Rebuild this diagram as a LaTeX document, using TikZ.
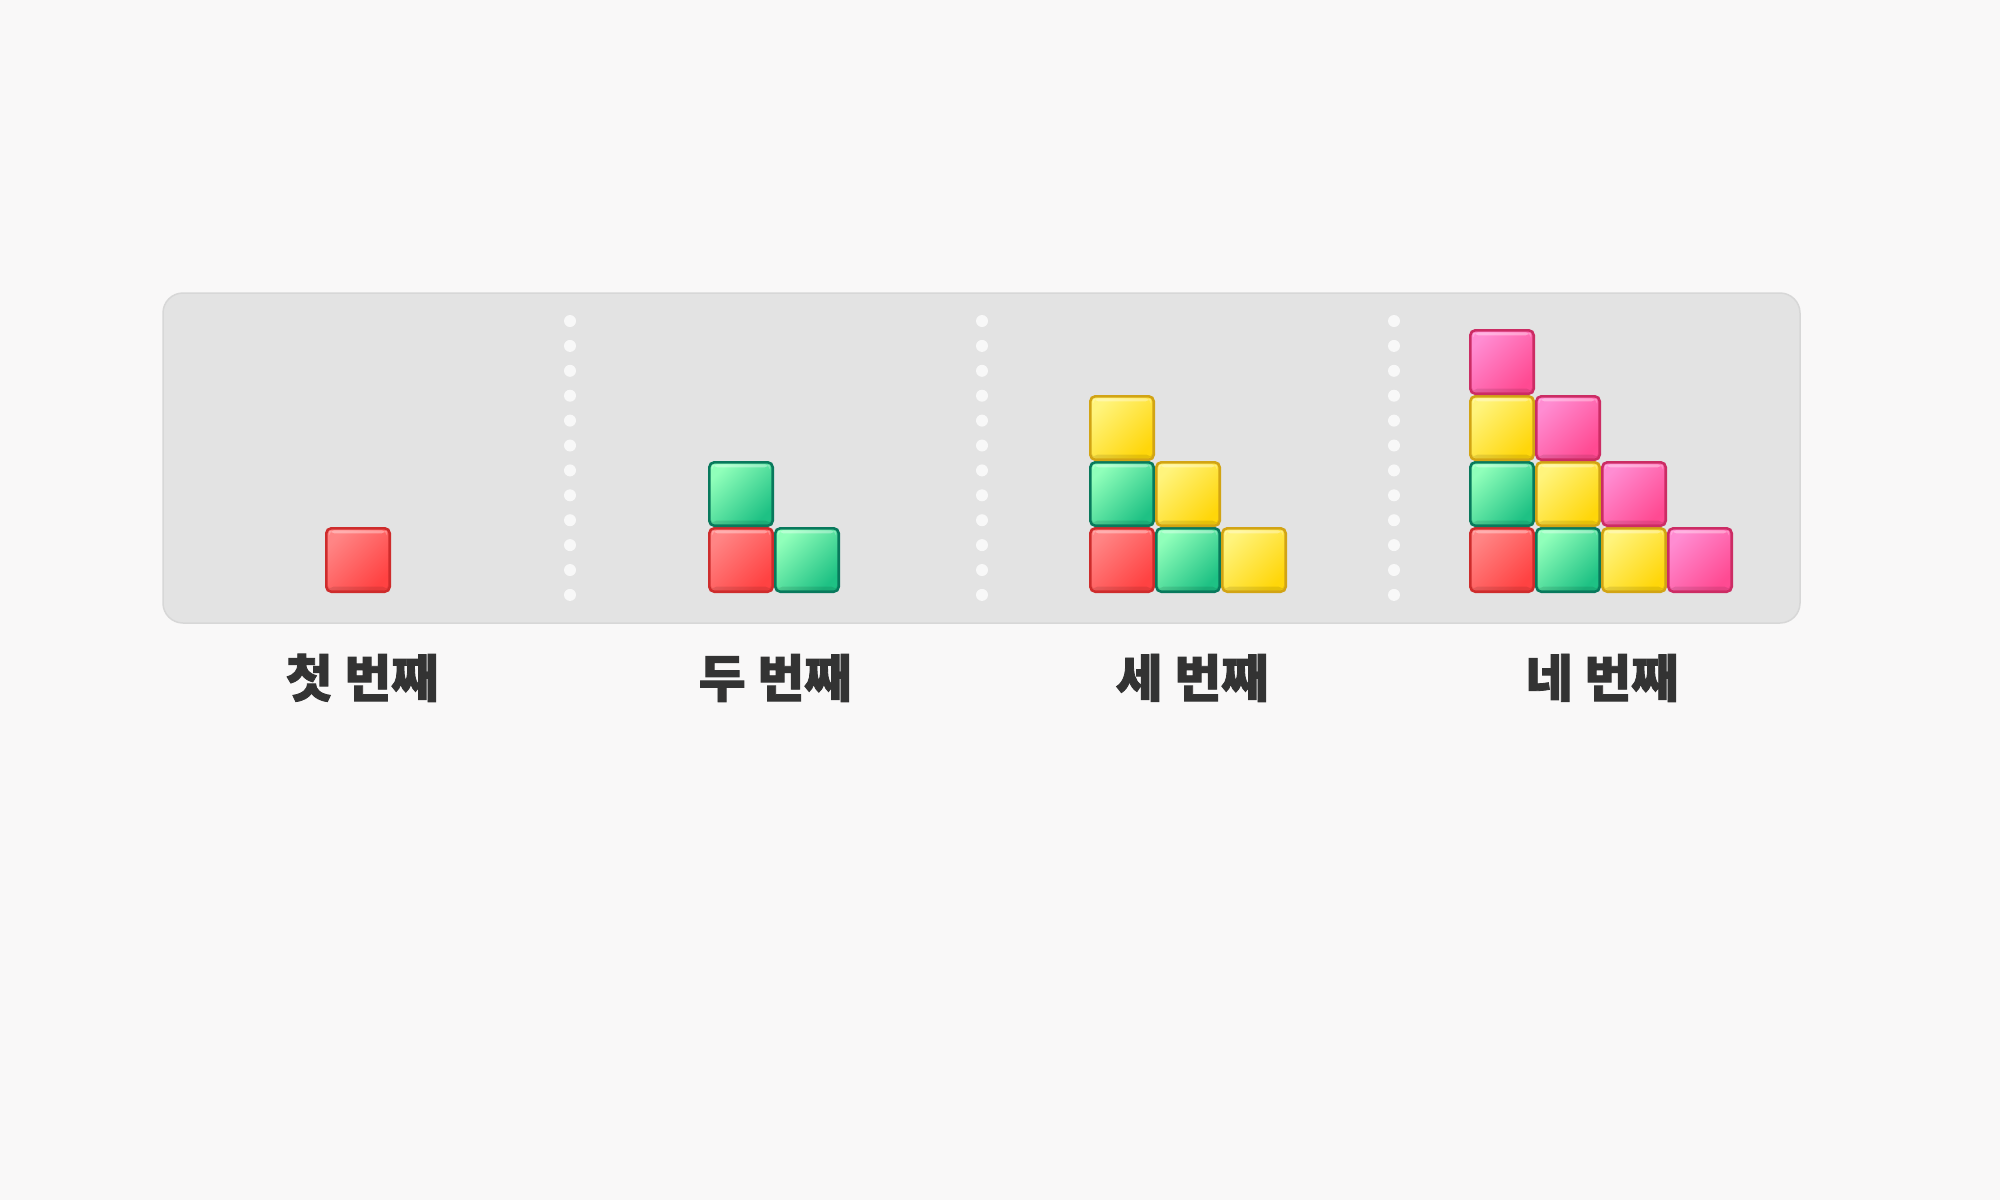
\documentclass[tikz,border=0pt]{standalone}
\usepackage{fontspec}
\newfontfamily\krfont{Noto Sans CJK KR}[BoldFeatures={FakeBold=1.6}]
\definecolor{bgc}{HTML}{F9F8F8}
\definecolor{panelc}{HTML}{E3E3E3}
\definecolor{paneld}{HTML}{D7D7D7}
\definecolor{dotc}{HTML}{F8F8F8}
\definecolor{txtc}{HTML}{333333}
\definecolor{rB}{HTML}{CE2C2C}\definecolor{rL}{HTML}{FF8585}\definecolor{rD}{HTML}{FF4242}
\definecolor{gB}{HTML}{08795C}\definecolor{gL}{HTML}{90FFBA}\definecolor{gD}{HTML}{1EC184}
\definecolor{yB}{HTML}{D2A414}\definecolor{yL}{HTML}{FFF47C}\definecolor{yD}{HTML}{FFD60A}
\definecolor{pB}{HTML}{CC2C64}\definecolor{pL}{HTML}{FF8CD2}\definecolor{pD}{HTML}{FF4A92}
\tikzset{
  blk/.style={draw, line width=2.6pt, rounded corners=5pt, minimum size=63.4pt,
    inner sep=0pt, outer sep=0pt,
    path picture={
      \fill[white, opacity=.35]
        ([xshift=3pt,yshift=-2pt]path picture bounding box.north west) rectangle
        ([xshift=-3pt,yshift=-5pt]path picture bounding box.north east);
      \fill[black, opacity=.10]
        ([xshift=2pt,yshift=5pt]path picture bounding box.south west) rectangle
        ([xshift=-2pt,yshift=1pt]path picture bounding box.south east);
    }},
  c0/.style={blk, draw=rB, top color=rL, bottom color=rD, shading angle=45},
  c1/.style={blk, draw=gB, top color=gL, bottom color=gD, shading angle=45},
  c2/.style={blk, draw=yB, top color=yL, bottom color=yD, shading angle=45},
  c3/.style={blk, draw=pB, top color=pL, bottom color=pD, shading angle=45},
  lbl/.style={font=\krfont\bfseries\fontsize{51}{60}\selectfont, text=txtc,
    anchor=base, inner sep=0pt},
  dotsty/.style={fill=dotc, draw=none}
}
\begin{document}
\begin{tikzpicture}[x=1pt, y=-1pt]
  \useasboundingbox[fill=bgc] (0,0) rectangle (2000,1200);
  \node[draw=paneld, fill=panelc, line width=1.5pt, rounded corners=20pt,
        minimum width=1637pt, minimum height=330pt, inner sep=0pt]
        (panel) at (981.5,458) {};
  % dotted separators
  \foreach \dx in {570,982,1394}{
    \foreach \i in {0,...,11}{
      \fill[dotsty] (\dx, 321+\i*24.9) circle (6pt);
    }
  }
  % blocks
  \foreach \k/\cx in {0/358,1/774,2/1188,3/1601}{
    \foreach \j in {0,...,\k}{
      \pgfmathtruncatemacro{\top}{\k-\j}
      \foreach \r in {0,...,\top}{
        \pgfmathtruncatemacro{\ci}{\j+\r}
        \node[c\ci] (b\k-\j-\r) at ({\cx-33*\k+66*\j}, {560-66*\r}) {};
      }
    }
  }
  % labels
  \node[lbl] (l1) at (362,697) {첫 번째};
  \node[lbl] (l2) at (775,697) {두 번째};
  \node[lbl] (l3) at (1192,697) {세 번째};
  \node[lbl] (l4) at (1602,697) {네 번째};
\end{tikzpicture}
\end{document}
